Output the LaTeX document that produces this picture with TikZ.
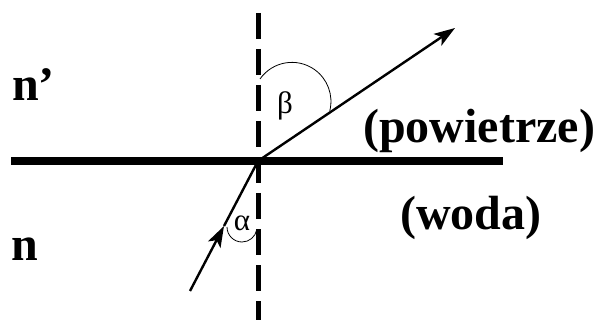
\documentclass[tikz,border=0pt]{standalone}
\usepackage{fontspec}
\setmainfont{Liberation Serif}
\usetikzlibrary{arrows.meta, calc}
\tikzset{
  interface/.style={
    line width=7.5pt,
    draw=black
  },
  normal/.style={
    line width=5pt,
    draw=black,
    dash pattern=on 26pt off 10pt
  },
  ray/.style={
    line width=2.4pt,
    draw=black
  },
  rayarrow/.style={
    ray,
    -{Stealth[length=21pt, width=14pt, inset=5pt]}
  },
  anglearc/.style={
    line width=0.8pt,
    draw=black
  },
  medium/.style={
    anchor=base west,
    inner sep=0pt,
    font=\fontsize{48}{52}\selectfont\bfseries
  },
  greek/.style={
    inner sep=0pt,
    font=\fontsize{31}{34}\selectfont
  }
}

\begin{document}
\begin{tikzpicture}[x=1pt, y=-1pt]

\useasboundingbox (0,0) rectangle (601,320);

% points of the rays
\coordinate (o) at (258,161);
\coordinate (left) at (11,161);
\coordinate (right) at (503,161);
\coordinate (top) at (258,13);
\coordinate (bottom) at (258,320);
\coordinate (src) at (190,291);
\coordinate (mid) at ($(src)!0.5!(o)$);
\coordinate (dst) at (455,28);

% surface and normal
\draw[interface] (left) -- (right);
\draw[normal] (top) -- (bottom);

% rays
\draw[rayarrow] (src) -- (mid);
\draw[ray] (mid) -- (o);
\draw[rayarrow] (o) -- (dst);

% angles
\draw[anglearc] (227,227) arc[start angle=180, end angle=11, radius=15];
\draw[anglearc] (260,79) arc[start angle=215, end angle=374, radius=39];

\node[greek] (alpha) at (242,223) {α};
\node[greek] (beta) at (285,106) {β};

% labels
\node[medium] (nup) at (12,101) {n’};
\node[medium] (ndown) at (11,260) {n};
\node[medium] (air) at (363,143) {(powietrze)};
\node[medium] (water) at (400,229) {(woda)};

\end{tikzpicture}
\end{document}
